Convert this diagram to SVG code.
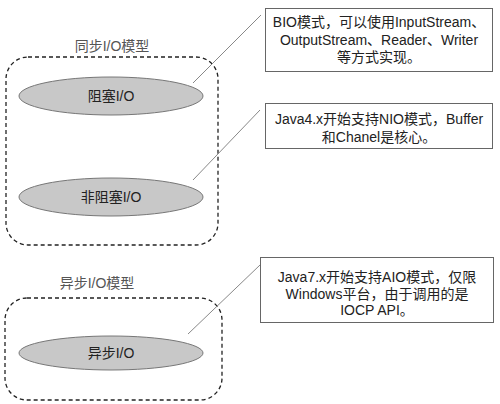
<svg xmlns="http://www.w3.org/2000/svg" width="500" height="404" viewBox="0 0 500 404">
<style>
text{font-family:"Liberation Sans","Noto Sans CJK SC",sans-serif;font-size:14px;fill:#222;text-anchor:middle}
.title{fill:#555}
.group{fill:none;stroke:#222;stroke-width:1.3;stroke-dasharray:4,3}
.ell{fill:#c8c8c8;stroke:#777;stroke-width:1}
.note{fill:#fff;stroke:#666;stroke-width:1}
.conn{stroke:#888;stroke-width:1;fill:none}
</style>
<rect width="500" height="404" fill="#fff"/>
<g id="sync-group">
<text class="title" x="112" y="51">同步I/O模型</text>
<rect class="group" x="6" y="57" width="212" height="188" rx="22"/>
</g>
<g id="async-group">
<text class="title" x="97" y="288">异步I/O模型</text>
<rect class="group" x="5" y="298" width="217" height="102" rx="22"/>
</g>
<g id="bio">
<ellipse class="ell" cx="111" cy="96" rx="92" ry="19"/>
<text x="111" y="101">阻塞I/O</text>
</g>
<g id="nio">
<ellipse class="ell" cx="111" cy="197" rx="92" ry="19"/>
<text x="111" y="202">非阻塞I/O</text>
</g>
<g id="aio">
<ellipse class="ell" cx="111" cy="353" rx="92" ry="17"/>
<text x="111" y="358">异步I/O</text>
</g>
<g id="connectors">
<line class="conn" x1="193" y1="83" x2="261" y2="15"/>
<line class="conn" x1="193" y1="180" x2="260" y2="110"/>
<line class="conn" x1="188" y1="334" x2="260" y2="265"/>
</g>
<g id="note-bio">
<rect class="note" x="265.5" y="8.5" width="227" height="63"/>
<text x="379" y="27">BIO模式，可以使用InputStream、</text>
<text x="379" y="45">OutputStream、Reader、Writer</text>
<text x="379" y="62">等方式实现。</text>
</g>
<g id="note-nio">
<rect class="note" x="265.5" y="103.5" width="227" height="45"/>
<text x="379" y="124">Java4.x开始支持NIO模式，Buffer</text>
<text x="379" y="142">和Chanel是核心。</text>
</g>
<g id="note-aio">
<rect class="note" x="260.5" y="257.5" width="233" height="65"/>
<text x="377" y="282">Java7.x开始支持AIO模式，仅限</text>
<text x="377" y="299">Windows平台，由于调用的是</text>
<text x="377" y="315">IOCP API。</text>
</g>
</svg>
